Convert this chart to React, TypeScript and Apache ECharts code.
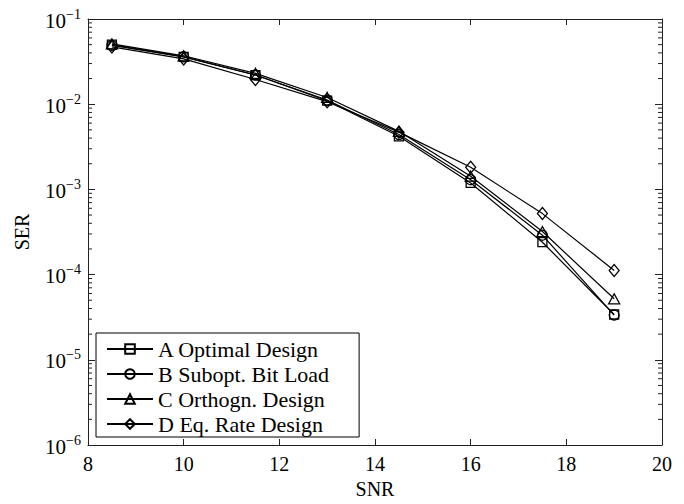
import React, { useEffect, useRef } from "react";
import * as echarts from "echarts";

const SNR = [8.5, 10, 11.5, 13, 14.5, 16, 17.5, 19];
const serA = [0.05, 0.036, 0.022, 0.011, 0.0042, 0.00119, 0.00024, 3.4e-5];
const serB = [0.049, 0.036, 0.022, 0.0112, 0.0044, 0.0013, 0.00029, 3.35e-5];
const serC = [0.051, 0.037, 0.023, 0.012, 0.0048, 0.00143, 0.00032, 5.2e-5];
const serD = [0.047, 0.034, 0.0195, 0.0107, 0.0047, 0.00182, 0.00052, 0.000112];
const seriesNames = ["A Optimal Design", "B Subopt. Bit Load", "C Orthogn. Design", "D Eq. Rate Design"];
const X_MIN = 8;
const X_MAX = 20;
const X_STEP = 2;
const Y_MIN = 1e-6;
const Y_MAX = 1e-1;
const minorMultipliers = [2, 3, 4, 5, 6, 7, 8, 9];
const decades = [1e-6, 1e-5, 1e-4, 1e-3, 1e-2];

const FONT = "'Liberation Serif', 'Times New Roman', serif";

export default function App() {
  const ref = useRef<HTMLDivElement>(null);
  useEffect(() => {
    if (!ref.current) return;
    const chart = echarts.init(ref.current, null, { renderer: "svg" });
    const minorData: number[][] = [];
    decades.forEach((d) => minorMultipliers.forEach((m) => minorData.push([X_MIN, d * m])));
    const mk = (name: string, vals: number[], symbol: string, size: any) => ({
      name,
      type: "line",
      data: SNR.map((x, i) => [x, vals[i]]),
      symbol,
      symbolSize: size,
      showSymbol: true,
      lineStyle: { color: "#000", width: 1.2 },
      itemStyle: { color: "rgba(255,255,255,0)", borderColor: "#000", borderWidth: 1.3 },
      emphasis: { disabled: true },
      z: 3,
    });
    const axisLine = { show: true, lineStyle: { color: "#222", width: 1 } };
    chart.setOption({
      animation: false,
      backgroundColor: "#fff",
      textStyle: { fontFamily: FONT },
      grid: { left: 88, right: 22, top: 19, bottom: 58 },
      legend: {
        orient: "vertical",
        left: 96,
        top: 333,
        data: seriesNames,
        itemWidth: 46,
        itemHeight: 12,
        itemGap: 3,
        padding: [5, 30, 2, 10],
        borderColor: "#000",
        borderWidth: 1,
        backgroundColor: "#fff",
        textStyle: { fontFamily: FONT, fontSize: 22, color: "#000", lineHeight: 20 },
      },
      xAxis: [
        {
          type: "value",
          min: X_MIN,
          max: X_MAX,
          interval: X_STEP,
          position: "bottom",
          axisLine,
          axisTick: { inside: true, length: 6, lineStyle: { color: "#222" } },
          splitLine: { show: false },
          axisLabel: { fontFamily: FONT, fontSize: 20, color: "#000", margin: 9 },
          name: "SNR",
          nameLocation: "middle",
          nameGap: 34,
          nameTextStyle: { fontFamily: FONT, fontSize: 20, color: "#000" },
        },
        {
          type: "value",
          min: X_MIN,
          max: X_MAX,
          interval: X_STEP,
          position: "top",
          axisLine,
          axisTick: { inside: true, length: 6, lineStyle: { color: "#222" } },
          splitLine: { show: false },
          axisLabel: { show: false },
        },
      ],
      yAxis: [
        {
          type: "log",
          logBase: 10,
          min: Y_MIN,
          max: Y_MAX,
          position: "left",
          axisLine,
          axisTick: { inside: true, length: 7, lineStyle: { color: "#222" } },
          splitLine: { show: false },
          minorTick: { show: false },
          axisLabel: {
            margin: 7,
            formatter: (v: number) => {
              const e = Math.round(Math.log10(v));
              return "{b|10}{s|" + (e < 0 ? "\u2212" + -e : String(e)) + "}";
            },
            rich: {
              b: { fontFamily: FONT, fontSize: 21, color: "#000", verticalAlign: "bottom", lineHeight: 20 },
              s: { fontFamily: FONT, fontSize: 14, color: "#000", verticalAlign: "bottom", padding: [0, 0, 10, 0] },
            },
          },
          name: "SER",
          nameLocation: "middle",
          nameGap: 56,
          nameTextStyle: { fontFamily: FONT, fontSize: 20, color: "#000" },
        },
        {
          type: "log",
          logBase: 10,
          min: Y_MIN,
          max: Y_MAX,
          position: "right",
          axisLine,
          axisTick: { inside: true, length: 7, lineStyle: { color: "#222" } },
          splitLine: { show: false },
          axisLabel: { show: false },
        },
      ],
      series: [
        mk(seriesNames[0], serA, "rect", 9),
        mk(seriesNames[1], serB, "circle", 10),
        mk(seriesNames[2], serC, "triangle", [11, 10]),
        mk(seriesNames[3], serD, "diamond", [10, 12]),
        {
          type: "custom",
          silent: true,
          xAxisIndex: 0,
          yAxisIndex: 0,
          data: minorData,
          encode: { x: 0, y: 1 },
          z: 1,
          renderItem: (params: any, api: any) => {
            const v = api.value(1);
            const p0 = api.coord([X_MIN, v]);
            const p1 = api.coord([X_MAX, v]);
            const st = { stroke: "#222", lineWidth: 1 };
            return {
              type: "group",
              children: [
                { type: "line", shape: { x1: p0[0], y1: p0[1], x2: p0[0] + 4, y2: p0[1] }, style: st },
                { type: "line", shape: { x1: p1[0] - 4, y1: p1[1], x2: p1[0], y2: p1[1] }, style: st },
              ],
            };
          },
        },
      ],
    });
    return () => chart.dispose();
  }, []);
  return (
    <div
      ref={ref}
      style={{ position: "fixed", left: 0, top: 0, width: 684, height: 504, background: "#fff" }}
    />
  );
}
